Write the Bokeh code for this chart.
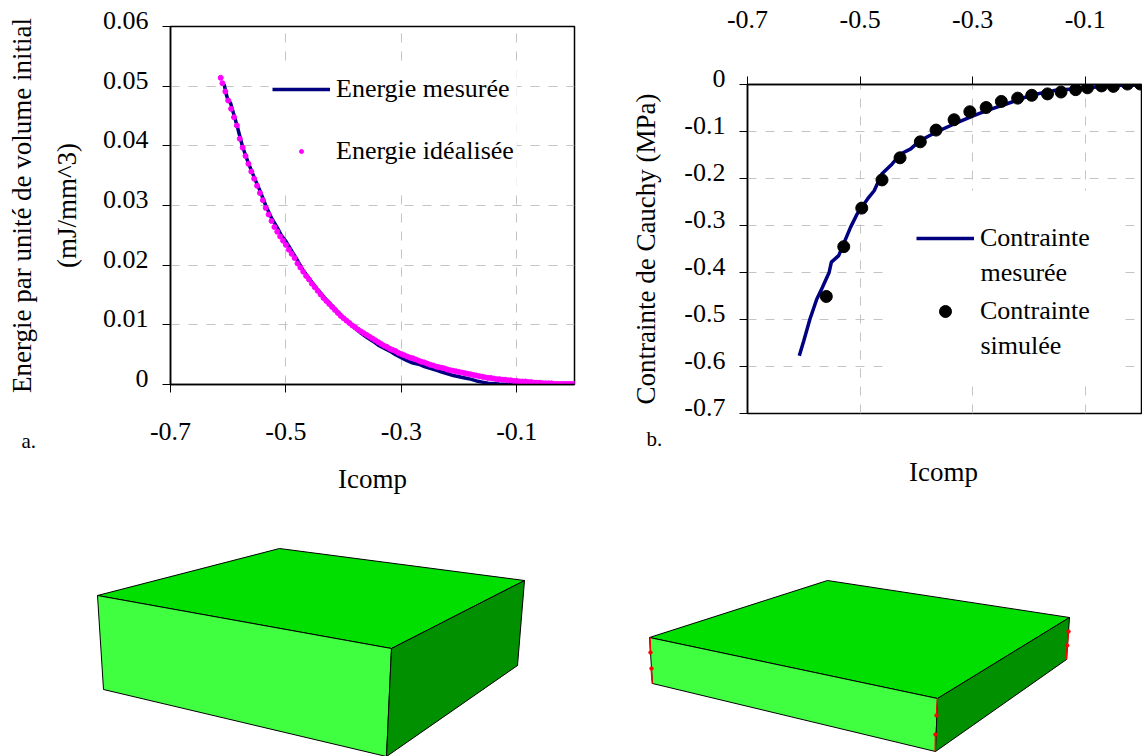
from bokeh.plotting import figure
from bokeh.models import (Range1d, FixedTicker, Legend, LegendItem, Label, LinearAxis)
from bokeh.layouts import column, row
from bokeh.embed import file_html
from bokeh.resources import INLINE

FONT = "Liberation Serif"
FS = "26px"
TS = "27px"
NAVY = "#000080"
MAGENTA = "#FF00FF"
GRID = "#C4C4C4"

# ---- chart a data
x_ticks = [-0.7, -0.5, -0.3, -0.1]
x_tick_labels = ["-0.7", "-0.5", "-0.3", "-0.1"]
a_y_ticks = [0, 0.01, 0.02, 0.03, 0.04, 0.05, 0.06]
a_y_labels = ["0", "0.01", "0.02", "0.03", "0.04", "0.05", "0.06"]

measured_x = [-.607,-.603,-.600,-.596,-.591,-.585,-.575,-.565,-.555,-.545,-.535,-.525,-.515,-.508,-.500,-.490,-.480,-.470,-.460,-.450,-.440,-.430,-.420,-.410,-.400,-.390,-.380,-.370,-.360,-.350,-.340,-.330,-.320,-.310,-.300,-.290,-.280,-.270,-.260,-.250,-.240,-.230,-.220,-.210,-.200,-.190,-.180,-.170,-.160,-.150,-.130,-.100,-.050,0]
measured_y = [.0503,.0485,.0476,.0472,.0455,.0435,.0398,.0371,.0347,.0325,.0300,.0279,.0263,.0250,.0240,.0224,.0208,.0191,.0178,.0165,.0153,.0142,.0132,.0122,.0112,.0103,.0094,.0086,.0079,.0073,.0066,.0061,.0056,.0050,.0045,.0040,.0036,.0034,.0030,.0027,.0024,.0021,.0018,.0015,.0013,.0011,.0009,.0006,.0004,.0002,.0001,0,0,0]

ideal_x = [-.613,-.610,-.605,-.600,-.595,-.590,-.585,-.580,-.575,-.570,-.565,-.560,-.555,-.550,-.545,-.540,-.535,-.530,-.525,-.520,-.515,-.510,-.505,-.500,-.495,-.490,-.485,-.480,-.475,-.470,-.465,-.460,-.455,-.450,-.445,-.440,-.435,-.430,-.425,-.420,-.415,-.410,-.405,-.400,-.395,-.390,-.385,-.380,-.375,-.370,-.365,-.360,-.355,-.350,-.345,-.340,-.335,-.330,-.325,-.320,-.315,-.310,-.305,-.300,-.295,-.290,-.285,-.280,-.275,-.270,-.265,-.260,-.255,-.250,-.245,-.240,-.235,-.230,-.225,-.220,-.215,-.210,-.205,-.200,-.195,-.190,-.185,-.180,-.175,-.170,-.165,-.160,-.155,-.150,-.145,-.140,-.135,-.130,-.125,-.120,-.115,-.110,-.105,-.100,-.095,-.090,-.085,-.080,-.075,-.070,-.065,-.060,-.055,-.050,-.045,-.040,-.035,-.030,-.025,-.020,-.015,-.010,-.005,0]
ideal_y = [.0514,.0505,.0491,.0476,.0462,.0448,.0434,.0412,.0397,.0383,.0370,.0357,.0345,.0333,.0321,.0309,.0296,.0285,.0274,.0264,.0256,.0248,.0241,.0234,.0226,.0219,.0212,.0203,.0196,.0189,.0182,.0176,.0169,.0163,.0157,.0151,.0145,.0140,.0135,.0130,.0125,.0120,.0115,.0111,.0107,.0103,.0099,.0096,.0092,.0089,.0086,.0083,.0080,.0077,.0074,.0071,.0068,.0065,.0063,.0060,.0058,.0056,.0053,.0051,.0049,.0047,.0045,.0044,.0042,.0040,.0038,.0037,.0035,.0033,.0032,.0030,.0029,.0028,.0027,.0025,.0024,.0023,.0022,.0021,.0020,.0019,.0018,.0017,.0016,.0015,.0014,.0013,.0012,.0011,.0011,.0010,.0009,.0009,.0008,.0008,.0007,.0007,.0006,.0006,.0005,.0005,.0005,.0004,.0004,.0003,.0003,.0003,.0002,.0002,.0002,.0002,.0001,.0001,.0001,.0001,.0001,.0001,.0001,.0001]

# ---- chart b data
b_y_ticks = [0, -0.1, -0.2, -0.3, -0.4, -0.5, -0.6, -0.7]
b_y_labels = ["0", "-0.1", "-0.2", "-0.3", "-0.4", "-0.5", "-0.6", "-0.7"]

stress_x = [-.608,-.600,-.589,-.577,-.567,-.555,-.551,-.538,-.517,-.505,-.487,-.475,-.461,-.443,-.428,-.410,-.393,-.366,-.333,-.298,-.274,-.239,-.197,-.156,-.096,-.049,0]
stress_y = [-.577,-.545,-.499,-.457,-.432,-.400,-.378,-.364,-.304,-.275,-.244,-.226,-.190,-.169,-.148,-.137,-.119,-.102,-.084,-.066,-.055,-.041,-.023,-.013,-.007,-.002,-.001]

sim_x = [-.560,-.529,-.497,-.461,-.429,-.393,-.365,-.333,-.305,-.276,-.249,-.220,-.195,-.167,-.143,-.117,-.096,-.071,-.050,-.025,-.002]
sim_y = [-.451,-.345,-.263,-.203,-.156,-.122,-.097,-.075,-.058,-.049,-.036,-.029,-.023,-.020,-.016,-.011,-.007,-.003,-.004,.001,.001]

# ---- 3D blocks (picture pixels, y downwards)
cube1_top_x = [97, 279, 524, 391]
cube1_top_y = [595, 548, 580, 648]
cube1_front_x = [97, 391, 386, 103]
cube1_front_y = [595, 648, 756, 689]
cube1_side_x = [391, 524, 517, 386]
cube1_side_y = [648, 580, 665, 756]

cube2_top_x = [649, 827, 1069, 937]
cube2_top_y = [637, 580, 617, 698]
cube2_front_x = [649, 937, 935, 652]
cube2_front_y = [637, 698, 751, 683]
cube2_side_x = [937, 1069, 1066, 935]
cube2_side_y = [698, 617, 659, 751]

red_xs = [[649.5, 650], [650.7, 651.7], [937, 936], [935, 934.7], [1068, 1066.7], [1066.7, 1066]]
red_ys = [[637, 652], [668, 683], [698, 715], [734, 751], [631, 645], [645, 659]]
red_dot_x = [650, 651, 936, 935, 1068, 1066.7]
red_dot_y = [652, 668, 715, 734, 631, 645]


def text_style(ax, title_size=TS):
    ax.major_label_text_font = FONT
    ax.major_label_text_font_size = FS
    ax.major_label_text_color = "black"
    ax.axis_label_text_font = FONT
    ax.axis_label_text_font_size = title_size
    ax.axis_label_text_font_style = "normal"
    ax.axis_label_text_color = "black"


def style(p, xt, yt):
    p.xgrid.ticker = FixedTicker(ticks=xt)
    p.ygrid.ticker = FixedTicker(ticks=yt)
    for g in (p.xgrid, p.ygrid):
        g.grid_line_color = GRID
        g.grid_line_dash = "9 9"
        g.grid_line_width = 1
    p.outline_line_color = "black"
    p.outline_line_width = 1.5
    for ax in (p.xaxis[0], p.yaxis[0]):
        ax.axis_line_color = "black"
        ax.axis_line_width = 1.5
        ax.major_tick_line_color = "black"
        ax.major_tick_line_width = 1
        ax.major_tick_in = 0
        ax.major_tick_out = 8
        ax.minor_tick_line_color = None
        text_style(ax)
    p.xaxis[0].ticker = FixedTicker(ticks=xt)
    p.xaxis[0].major_label_overrides = dict(zip(xt, x_tick_labels))
    p.yaxis[0].ticker = FixedTicker(ticks=yt)
    p.yaxis[0].major_label_overrides = {v: "" for v in yt}
    p.yaxis[0].major_label_standoff = 0


def label_axis(p, ticks, labels, lift, standoff, title, title_standoff):
    """Axis that carries the y tick labels, lifted a few pixels above the tick marks."""
    start, end = p.y_range.start, p.y_range.end
    p.extra_y_ranges["lab"] = Range1d(start - lift, end - lift)
    ax = LinearAxis(y_range_name="lab", ticker=FixedTicker(ticks=ticks),
                    major_label_overrides=dict(zip(ticks, labels)))
    ax.axis_line_color = None
    ax.major_tick_line_color = None
    ax.minor_tick_line_color = None
    ax.major_tick_in = 0
    ax.major_tick_out = 0
    ax.major_label_standoff = standoff
    ax.axis_label = title
    ax.axis_label_standoff = title_standoff
    text_style(ax)
    p.add_layout(ax, "left")
    return ax


def lab(p, text, x, y, align="left", size=FS):
    p.add_layout(Label(x=x, y=y, x_units="canvas", y_units="canvas", text=text,
                       text_font=FONT, text_font_size=size, text_color="black",
                       text_align=align, text_baseline="middle"), "below")


def make_legend(p, items, loc, spacing, label_height, glyph_height):
    p.add_layout(Legend(items=items, location=loc, padding=4, margin=0, spacing=spacing,
                        label_height=label_height, glyph_width=58, glyph_height=glyph_height,
                        label_standoff=6, background_fill_alpha=0, border_line_color=None,
                        label_text_font=FONT, label_text_font_size=FS, label_text_color="black"),
                 "center")


# ---- figure a : frame x 170..574, y 26..384
pa = figure(width=612, height=546, output_backend="svg", toolbar_location=None,
            x_range=Range1d(-0.7, 0), y_range=Range1d(0, 0.06), frame_align=False,
            min_border_left=170, min_border_right=38, min_border_top=26, min_border_bottom=162)
style(pa, x_ticks, a_y_ticks)
pa.xaxis[0].major_label_standoff = 30
pa.quad(left=[-0.53], right=[-0.1], bottom=[0.033], top=[0.054], color="white", line_color=None)
r1 = pa.line(measured_x, measured_y, line_color=NAVY, line_width=3.5)
r2 = pa.scatter(ideal_x, ideal_y, size=5, color=MAGENTA)
make_legend(pa, [LegendItem(label="Energie mesurée", renderers=[r1]),
                 LegendItem(label="Energie idéalisée", renderers=[r2])],
            (102, 210), 16, 46, 10)
mid = label_axis(pa, a_y_ticks[:-1], a_y_labels[:-1], 0.001, 14, "(mJ/mm^3)", 18)
mid.bounds = (-0.001, 0.0547)
outer = LinearAxis(y_range_name="lab", ticker=FixedTicker(ticks=[]), axis_label="Energie par unité de volume initial",
                   axis_label_standoff=12, axis_line_color=None, major_tick_line_color=None,
                   minor_tick_line_color=None, bounds=(-0.001, 0.0547))
text_style(outer)
pa.add_layout(outer, "left")
lab(pa, a_y_labels[-1], 148, 20, align="right")
lab(pa, "Icomp", 372, 478, align="center", size=TS)
lab(pa, "a.", 21, 440, size="21px")

# ---- figure b : frame x 747..1141, y 84..413 (figure starts at x 612)
pb = figure(width=530, height=546, output_backend="svg", toolbar_location=None,
            x_range=Range1d(-0.7, 0), y_range=Range1d(-0.7, 0), frame_align=False,
            x_axis_location="above",
            min_border_left=135, min_border_right=1, min_border_top=84, min_border_bottom=133)
style(pb, x_ticks, b_y_ticks)
pb.xaxis[0].major_label_standoff = 49
pb.quad(left=[-0.451], right=[-0.043], bottom=[-0.6255], top=[-0.2255], color="white", line_color=None)
r3 = pb.line(stress_x, stress_y, line_color=NAVY, line_width=3.5)
r4 = pb.scatter(sim_x, sim_y, size=12, color="black")
make_legend(pb, [LegendItem(label="Contrainte", renderers=[r3]),
                 LegendItem(label="Contrainte", renderers=[r4])],
            (169, 87), 43, 30, 30)
label_axis(pb, b_y_ticks[1:], b_y_labels[1:], 0.0128, 14, "Contrainte de Cauchy (MPa)", 20)
lab(pb, b_y_labels[0], 113, 78, align="right")
lab(pb, "mesurée", 368, 272)
lab(pb, "simulée", 368, 345)
lab(pb, "Icomp", 331, 471, align="center", size=TS)
lab(pb, "b.", 34, 438, size="21px")

# ---- blocks
pc = figure(width=1142, height=210, output_backend="svg", toolbar_location=None,
            x_range=Range1d(0, 1142), y_range=Range1d(756, 546),
            min_border=0, outline_line_color=None, frame_align=False)
pc.axis.visible = False
pc.grid.visible = False
for xs, ys, col in [(cube1_top_x, cube1_top_y, "#00DF00"), (cube1_front_x, cube1_front_y, "#40FF40"),
                    (cube1_side_x, cube1_side_y, "#009000"), (cube2_top_x, cube2_top_y, "#00DF00"),
                    (cube2_front_x, cube2_front_y, "#40FF40"), (cube2_side_x, cube2_side_y, "#009000")]:
    pc.patch(xs, ys, fill_color=col, line_color="black", line_width=1)
pc.multi_line(red_xs, red_ys, line_color="#FF0000", line_width=1.5)
pc.scatter(red_dot_x, red_dot_y, size=3.5, color="#FF0000")

layout = column(row(pa, pb, spacing=0), pc, spacing=0)
open("out.html", "w").write(file_html(layout, INLINE))
